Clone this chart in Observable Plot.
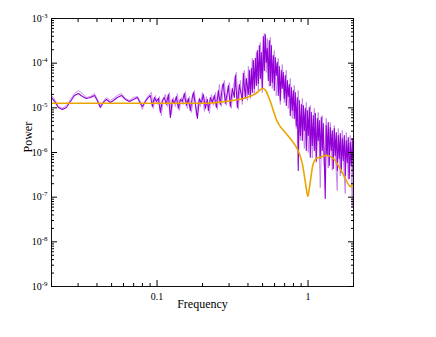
<!DOCTYPE html>
<html><head><meta charset="utf-8">
<script src="https://cdn.jsdelivr.net/npm/d3@7"></script>
<script src="https://cdn.jsdelivr.net/npm/@observablehq/plot@0.6"></script>
<style>body{margin:0;background:#fff}#chart{position:absolute;left:0;top:0}</style>
</head><body><div id="chart"></div>
<script>
// Observed periodogram (dark trace)
const freqDark = [
0.0200,0.0212,0.0222,0.0236,0.0251,0.0267,0.0284,0.0301,0.0321,0.0340,0.0362,0.0385,0.0402,0.0421,0.0441,0.0462,0.0491,0.0514,0.0546,0.0581,0.0617,0.0656,0.0697,0.0741,0.0775,0.0799,0.0837,0.0876,
0.0903,0.0931,0.0960,0.0990,0.1021,0.1052,0.1085,0.1118,0.1152,0.1188,0.1225,0.1263,0.1302,0.1342,0.1384,0.1426,0.1470,0.1516,0.1563,0.1612,0.1663,0.1714,0.1741,0.1795,0.1851,0.1908,0.1967,0.2028,0.2090,0.2155,0.2188,0.2255,0.2325,0.2397,0.2471,
0.2547,0.2626,0.2707,0.2749,0.2833,0.2921,0.2966,0.3057,0.3152,0.3249,0.3300,0.3402,0.3507,0.3617,0.3672,0.3729,0.3844,0.3903,0.4024,0.4086,0.4148,0.4212,
0.4277,0.4342,0.4409,0.4477,0.4546,0.4616,0.4686,0.4759,0.4831,0.4905,
0.4981,0.5057,0.5135,0.5213,0.5293,0.5375,0.5457,0.5541,0.5625,0.5712,
0.5799,0.5888,0.5979,0.6070,0.6163,0.6258,0.6354,0.6452,0.6550,0.6651,
0.6753,0.6857,0.6962,0.7070,0.7179,0.7289,0.7401,0.7515,0.7630,0.7747,
0.7866,0.7987,0.8110,0.8230,0.8357,0.8485,0.8615,0.8748,0.8890,0.9027,
0.9166,0.9306,0.9450,0.9590,0.9738,0.9887,1.0039,1.0194,1.035,1.0509,
1.0671,1.0834,1.1002,1.117,1.1342,1.1516,1.1693,1.1874,1.205,1.2235,
1.2424,1.2614,1.2809,1.300,1.320,1.340,1.361,1.382,1.404,1.4256,
1.4475,1.4697,1.4925,1.515,1.5383,1.562,1.586,1.610,1.635,1.660,
1.686,1.712,1.738,1.764,1.791,1.819,1.847,1.875,1.904,1.933,
1.963,1.993];
const powDark = [
1.70e-5,1.32e-5,1.02e-5,9.2e-6,1.02e-5,1.39e-5,1.89e-5,2.09e-5,1.79e-5,1.62e-5,1.70e-5,1.89e-5,1.46e-5,1.02e-5,1.32e-5,1.54e-5,1.32e-5,1.46e-5,1.70e-5,1.89e-5,1.54e-5,1.39e-5,1.54e-5,1.70e-5,1.25e-5,1.07e-5,1.39e-5,1.70e-5,
1.89e-5,1.07e-5,1.70e-5,1.39e-5,1.62e-5,7.9e-6,1.46e-5,1.70e-5,1.19e-5,1.99e-5,6.1e-6,1.54e-5,1.25e-5,1.79e-5,9.7e-6,1.54e-5,1.39e-5,2.09e-5,1.13e-5,1.62e-5,8.7e-6,1.79e-5,2.20e-5,1.19e-5,5.8e-6,1.62e-5,1.25e-5,1.99e-5,9.7e-6,1.54e-5,8.7e-6,1.70e-5,1.32e-5,1.89e-5,1.02e-5,
2.44e-5,1.19e-5,3.00e-5,3.51e-5,1.25e-5,2.20e-5,3.16e-5,1.07e-5,2.71e-5,1.70e-5,5.3e-5,1.02e-5,3.33e-5,1.89e-5,1.46e-5,5.91e-5,1.62e-5,4.54e-5,1.99e-5,6.9e-5,1.79e-5,7.62e-5,
2.20e-5,1.15e-4,2.71e-5,1.28e-4,3.16e-5,1.92e-4,3.51e-5,2.49e-4,4.54e-5,1.73e-4,
2.71e-5,3.95e-4,6.9e-5,4.38e-4,1.04e-4,2.13e-4,4.1e-5,3.21e-4,3.16e-5,2.49e-4,
3.70e-5,1.49e-4,2.44e-5,1.34e-4,5.3e-5,1.04e-4,1.89e-5,8.45e-5,1.46e-5,6.9e-5,
2.71e-5,6.22e-5,1.62e-5,5.3e-5,1.13e-5,4.1e-5,1.79e-5,3.33e-5,6.7e-6,2.85e-5,
8.7e-6,2.44e-5,5.8e-6,2.20e-5,4.0e-6,1.70e-5,3.95e-7,1.46e-5,2.4e-6,1.19e-5,
1.86e-6,1.13e-5,3.1e-6,9.7e-6,1.11e-6,8.7e-6,2.4e-6,1.02e-5,7.8e-7,7.9e-6,
1.44e-6,6.7e-6,1.11e-6,7.5e-6,6.6e-7,5.8e-6,1.86e-6,5.2e-6,7.4e-7,6.1e-6,
1.11e-6,4.45e-6,6.6e-7,9.3e-8,4.0e-6,8.6e-7,4.7e-6,5.1e-7,3.6e-6,1.11e-6,
3.1e-6,4.37e-7,3.43e-6,8.6e-7,2.8e-6,3.95e-7,2.4e-6,7.4e-7,2.66e-6,3.56e-7,
2.06e-6,6.6e-7,2.4e-6,3.05e-7,1.86e-6,6.0e-7,2.16e-6,2.61e-7,1.68e-6,5.1e-7,
2.06e-6,2.9e-7];

// Second (lighter) trace
const freqLight = [
0.0200,0.0212,0.0222,0.0236,0.0251,0.0267,0.0284,0.0301,0.0321,0.0340,0.0362,0.0385,0.0402,0.0421,0.0441,0.0462,0.0491,0.0514,0.0546,0.0581,0.0617,0.0656,0.0697,0.0741,0.0775,0.0799,0.0837,0.0876,
0.0917,0.0945,0.0975,0.1005,0.1036,0.1068,0.1101,0.1135,0.1170,0.1206,0.1244,0.1282,0.1322,0.1363,0.1405,0.1448,0.1493,0.1540,0.1587,0.1637,0.1688,0.1768,0.1823,0.1879,0.1937,0.1997,0.2059,0.2122,0.2222,0.2290,0.2361,0.2433,
0.2509,0.2586,0.2666,0.2791,0.2877,0.3011,0.3104,0.3200,0.3351,0.3454,0.3562,0.3672,0.3786,0.3963,0.4024,0.4148,
0.4277,0.4409,0.4546,0.4686,0.4831,0.4981,0.5135,0.5293,0.5375,0.5541,0.5625,0.5799,0.5979,0.6163,0.6354,0.6550,0.6753,0.6962,0.7179,0.7401,
0.7630,0.7866,0.8110,0.8357,0.8615,0.8890,0.9166,0.9450,0.9738,1.0039,1.035,1.0671,1.1002,1.1342,1.1693,1.205,1.2424,1.2809,1.320,1.361,
1.404,1.4475,1.4925,1.5383,1.562,1.586,1.635,1.686,1.738,1.764,1.791,1.847,1.904,1.963,1.993];
const powLight = [
1.89e-5,1.46e-5,1.07e-5,9.7e-6,1.13e-5,1.54e-5,2.09e-5,2.44e-5,2.09e-5,1.70e-5,1.79e-5,2.09e-5,1.54e-5,1.13e-5,1.39e-5,1.70e-5,1.46e-5,1.62e-5,1.89e-5,2.09e-5,1.62e-5,1.46e-5,1.70e-5,1.79e-5,1.39e-5,9.2e-6,1.46e-5,1.89e-5,
2.20e-5,9.7e-6,1.89e-5,1.19e-5,1.79e-5,6.7e-6,1.62e-5,1.99e-5,1.07e-5,2.20e-5,7.1e-6,1.70e-5,1.07e-5,2.09e-5,8.7e-6,1.70e-5,1.19e-5,2.32e-5,9.7e-6,1.79e-5,7.9e-6,2.44e-5,6.7e-6,1.46e-5,1.07e-5,2.20e-5,8.3e-6,1.79e-5,7.5e-6,1.99e-5,1.13e-5,2.20e-5,
9.2e-6,3.33e-5,1.07e-5,4.1e-5,1.13e-5,3.70e-5,9.7e-6,3.00e-5,6.22e-5,9.2e-6,4.1e-5,1.19e-5,6.9e-5,1.46e-5,8.45e-5,1.62e-5,
1.28e-4,1.99e-5,1.73e-4,2.44e-5,2.90e-4,2.20e-5,4.61e-4,6.22e-5,3.56e-4,3.00e-5,3.75e-4,2.71e-5,1.92e-4,1.89e-5,1.28e-4,1.19e-5,9.35e-5,1.32e-5,6.9e-5,9.7e-6,
4.54e-5,5.8e-6,3.16e-5,3.43e-6,2.44e-5,1.86e-6,1.62e-5,1.23e-6,1.32e-5,1.0e-6,1.13e-5,7.5e-7,9.7e-6,6.0e-7,7.9e-6,1.64e-7,6.7e-6,5.0e-7,5.8e-6,4.5e-7,
4.7e-6,4.0e-7,4.0e-6,3.5e-7,1.41e-7,3.43e-6,3.0e-7,3.1e-6,2.8e-7,1.21e-7,2.8e-6,2.5e-7,2.4e-6,5.9e-8,1.86e-6];

// Model spectrum
const freqModel = [0.0200,0.0500,0.1000,0.1500,0.2155,0.2626,0.3402,0.3963,0.4477,0.4831,0.5057,0.5293,0.5457,0.5625,0.5799,0.5979,0.6258,0.6550,0.7070,0.7630,0.8230,0.8748,0.9166,0.9450,0.9738,0.9960,1.0194,1.0509,1.0834,1.1342,1.2050,1.3400,1.4697,1.5860,1.6860,1.7910,1.8750,1.9330,1.9930];
const powModel = [1.27e-5,1.27e-5,1.27e-5,1.27e-5,1.27e-5,1.34e-5,1.51e-5,1.73e-5,2.06e-5,2.54e-5,2.71e-5,2.32e-5,1.79e-5,1.39e-5,1.02e-5,7.5e-6,4.9e-6,3.8e-6,2.8e-6,2.06e-6,1.44e-6,9.5e-7,5.65e-7,3.05e-7,1.56e-7,1.04e-7,1.56e-7,3.21e-7,5.65e-7,7.4e-7,7.8e-7,8.6e-7,7.4e-7,5.1e-7,3.56e-7,2.36e-7,1.82e-7,1.73e-7,2.02e-7];

// Axis ticks and labels
const xMajor = [0.1, 1];
const xLabels = ["0.1", "1"];
const xMinor = [0.02,0.03,0.04,0.05,0.06,0.07,0.08,0.09,0.2,0.3,0.4,0.5,0.6,0.7,0.8,0.9,2];
const yMajor = [1e-9,1e-8,1e-7,1e-6,1e-5,1e-4,1e-3];
const yLabels = ["10^-9","10^-8","10^-7","10^-6","10^-5","10^-4","10^-3"];
const yMinor = [];
for (const d of yMajor.slice(0, -1)) for (let k = 2; k <= 9; k++) yMinor.push(d * k);

const toRows = (fs, ps) => fs.map((f, i) => ({f, p: ps[i]}));
const darkRows = toRows(freqDark, powDark);
const lightRows = toRows(freqLight, powLight);
const modelRows = toRows(freqModel, powModel);

const blank = () => "";
const chart = Plot.plot({
  width: 436, height: 337,
  marginLeft: 51, marginRight: 83, marginTop: 18, marginBottom: 51,
  style: {fontFamily: "'Liberation Serif','Times New Roman',serif", fontSize: "10px", background: "#fff", color: "#000"},
  x: {type: "log", domain: [0.02, 2]},
  y: {type: "log", domain: [1e-9, 1e-3]},
  marks: [
    Plot.line(lightRows, {x: "f", y: "p", stroke: "#c98bea", strokeWidth: 1, clip: true}),
    Plot.line(darkRows, {x: "f", y: "p", stroke: "#9100d6", strokeWidth: 1.1, clip: true}),
    Plot.line(modelRows, {x: "f", y: "p", stroke: "#eba500", strokeWidth: 1.6, curve: "catmull-rom", clip: true}),
    Plot.frame({stroke: "#111", strokeWidth: 1}),
    Plot.axisX(xMinor, {anchor: "bottom", tickSize: -3, tickFormat: blank, label: null}),
    Plot.axisX(xMinor, {anchor: "top", tickSize: -3, tickFormat: blank, label: null}),
    Plot.axisX(xMajor, {anchor: "bottom", tickSize: -6, tickFormat: blank, label: null}),
    Plot.axisX(xMajor, {anchor: "top", tickSize: -6, tickFormat: blank, label: null}),
    Plot.axisX(xMajor, {anchor: "bottom", tickSize: 0, tickPadding: 6, tickFormat: d => xLabels[xMajor.indexOf(d)], label: null}),
    Plot.axisY(yMinor, {anchor: "left", tickSize: -3, tickFormat: blank, label: null}),
    Plot.axisY(yMinor, {anchor: "right", tickSize: -3, tickFormat: blank, label: null}),
    Plot.axisY(yMajor, {anchor: "left", tickSize: -6, tickFormat: blank, label: null}),
    Plot.axisY(yMajor, {anchor: "right", tickSize: -6, tickFormat: blank, label: null}),
    Plot.axisY(yMajor, {anchor: "left", tickSize: 0, tickPadding: 4, tickFormat: d => yLabels[yMajor.indexOf(d)], label: null}),
    Plot.text(["Frequency"], {frameAnchor: "bottom", dy: 21, fontSize: 12}),
    Plot.text(["Power"], {frameAnchor: "left", dx: -23, rotate: -90, fontSize: 12})
  ]
});
// superscript exponents on y tick labels
chart.querySelectorAll("text").forEach(t => {
  const s = t.textContent;
  if (!s.includes("^")) return;
  const [base, exp] = s.split("^");
  t.textContent = base;
  const ts = document.createElementNS("http://www.w3.org/2000/svg", "tspan");
  ts.setAttribute("dy", "-4");
  ts.setAttribute("font-size", "7");
  ts.textContent = exp;
  t.appendChild(ts);
});
document.getElementById("chart").appendChild(chart);
</script>
</body></html>
